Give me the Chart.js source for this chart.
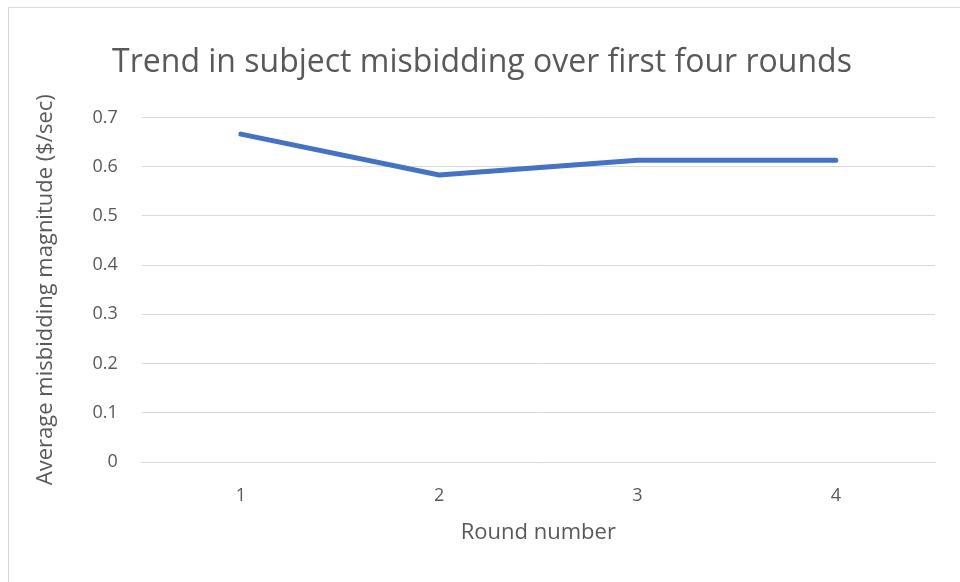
<!DOCTYPE html>
<html lang="en">
<head>
    <meta charset="UTF-8">
    <title>Trend in subject misbidding</title>
    <script src="https://cdn.jsdelivr.net/npm/chart.js"></script>
    <style>
        body { margin: 0; background: #fff; overflow: hidden; }
        .box { position: absolute; left: 8px; top: 7px; width: 960px; height: 582px; border: 1px solid #d9d9d9; box-sizing: border-box; }
        .box canvas { position: absolute; left: -9px; top: -8px; }
    </style>
</head>
<body>
    <div class="box">
        <canvas id="misbidChart" width="960" height="582"></canvas>
    </div>

    <script>
        // Rondes en gemiddelde misbidding
        const rounds = ["1", "2", "3", "4"];
        const avgMisbidding = [0.666, 0.583, 0.613, 0.613];
        const yTicks = [0, 0.1, 0.2, 0.3, 0.4, 0.5, 0.6, 0.7];

        const textColor = "#595959";
        const font = "'Open Sans', 'Liberation Sans', sans-serif";

        new Chart(document.getElementById("misbidChart"), {
            type: "line",
            data: {
                labels: rounds,
                datasets: [{
                    label: "Average misbidding",
                    data: avgMisbidding,
                    borderColor: "#4472c4",
                    borderWidth: 5,
                    pointRadius: 0,
                    tension: 0,
                    borderCapStyle: "round",
                    borderJoinStyle: "round"
                }]
            },
            options: {
                responsive: false,
                animation: false,
                layout: { padding: { left: 29, right: 25, top: 44, bottom: 32 } },
                plugins: {
                    legend: { display: false },
                    title: {
                        display: true,
                        text: "Trend in subject misbidding over first four rounds",
                        color: textColor,
                        font: { family: font, size: 32, weight: "normal" },
                        padding: { top: 0, bottom: 35 }
                    },
                    tooltip: { enabled: false }
                },
                scales: {
                    x: {
                        offset: true,
                        grid: { display: false, drawTicks: false },
                        border: { color: "#d9d9d9" },
                        ticks: { color: textColor, font: { family: font, size: 18 }, padding: 23 },
                        title: {
                            display: true,
                            text: "Round number",
                            color: textColor,
                            font: { family: font, size: 22 },
                            padding: { top: -10 }
                        }
                    },
                    y: {
                        min: 0,
                        max: 0.7,
                        afterBuildTicks: axis => { axis.ticks = yTicks.map(v => ({ value: v })); },
                        grid: { color: "#d9d9d9", lineWidth: 1, drawTicks: false },
                        border: { display: false },
                        ticks: { color: textColor, font: { family: font, size: 18 }, padding: 24 },
                        title: {
                            display: true,
                            text: "Average misbidding magnitude ($/sec)",
                            color: textColor,
                            font: { family: font, size: 22 },
                            padding: { bottom: 9 }
                        }
                    }
                }
            }
        });
    </script>
</body>
</html>
